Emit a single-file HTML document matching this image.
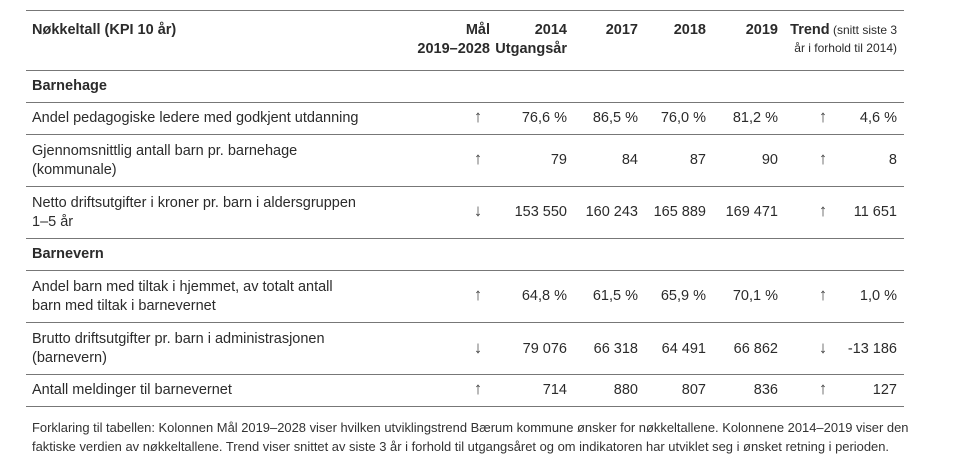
<!DOCTYPE html>
<html><head><meta charset="utf-8"><style>
body{margin:0;width:965px;height:470px;background:#fff;position:relative;overflow:hidden;font-family:"Liberation Sans",sans-serif;color:#2b2b2b}
.l{position:absolute;left:26px;width:878px;height:1px;background:#777}
.t{position:absolute;white-space:nowrap;font-size:14.5px;line-height:19px}
.r{text-align:right}
.b{font-weight:bold}
.c{text-align:center}
.a{font-size:17px;color:#444;top:-2px}
.f{position:absolute;left:32px;font-size:13px;white-space:nowrap;color:#333;transform-origin:0 0;transform:scaleX(0.995)}
</style></head><body>
<div class="l" style="top:10px"></div>
<div class="l" style="top:70px"></div>
<div class="l" style="top:102px"></div>
<div class="l" style="top:134px"></div>
<div class="l" style="top:186px"></div>
<div class="l" style="top:238px"></div>
<div class="l" style="top:270px"></div>
<div class="l" style="top:322px"></div>
<div class="l" style="top:374px"></div>
<div class="l" style="top:406px"></div>

<div class="t b" style="left:32px;top:21px">Nøkkeltall (KPI 10 år)</div>
<div class="t b r" style="right:475px;top:21px">Mål<br>2019–2028</div>
<div class="t b r" style="right:398px;top:21px">2014<br>Utgangsår</div>
<div class="t b r" style="right:327px;top:21px">2017</div>
<div class="t b r" style="right:259px;top:21px">2018</div>
<div class="t b r" style="right:187px;top:21px">2019</div>
<div class="t r" style="right:68px;top:21px;font-size:12px;line-height:18px"><b style="font-size:14.5px">Trend</b> (snitt siste 3<br>år i forhold til 2014)</div>

<div class="t b" style="left:32px;top:77px">Barnehage</div>
<div class="t b" style="left:32px;top:245px">Barnevern</div>

<div class="t" style="left:32px;top:109px">Andel pedagogiske ledere med godkjent utdanning</div>
<div class="t" style="left:32px;top:142px">Gjennomsnittlig antall barn pr. barnehage<br>(kommunale)</div>
<div class="t" style="left:32px;top:194px">Netto driftsutgifter i kroner pr. barn i aldersgruppen<br>1–5 år</div>
<div class="t" style="left:32px;top:278px">Andel barn med tiltak i hjemmet, av totalt antall<br>barn med tiltak i barnevernet</div>
<div class="t" style="left:32px;top:330px">Brutto driftsutgifter pr. barn i administrasjonen<br>(barnevern)</div>
<div class="t" style="left:32px;top:381px">Antall meldinger til barnevernet</div>

<div class="t" style="left:0;top:109px;width:965px">
<span class="t c a" style="left:468px;width:20px">↑</span><span class="t r" style="right:398px">76,6 %</span><span class="t r" style="right:327px">86,5 %</span><span class="t r" style="right:259px">76,0 %</span><span class="t r" style="right:187px">81,2 %</span><span class="t c a" style="left:813px;width:20px">↑</span><span class="t r" style="right:68px">4,6 %</span></div>
<div class="t" style="left:0;top:151px;width:965px">
<span class="t c a" style="left:468px;width:20px">↑</span><span class="t r" style="right:398px">79</span><span class="t r" style="right:327px">84</span><span class="t r" style="right:259px">87</span><span class="t r" style="right:187px">90</span><span class="t c a" style="left:813px;width:20px">↑</span><span class="t r" style="right:68px">8</span></div>
<div class="t" style="left:0;top:203px;width:965px">
<span class="t c a" style="left:468px;width:20px">↓</span><span class="t r" style="right:398px">153 550</span><span class="t r" style="right:327px">160 243</span><span class="t r" style="right:259px">165 889</span><span class="t r" style="right:187px">169 471</span><span class="t c a" style="left:813px;width:20px">↑</span><span class="t r" style="right:68px">11 651</span></div>
<div class="t" style="left:0;top:287px;width:965px">
<span class="t c a" style="left:468px;width:20px">↑</span><span class="t r" style="right:398px">64,8 %</span><span class="t r" style="right:327px">61,5 %</span><span class="t r" style="right:259px">65,9 %</span><span class="t r" style="right:187px">70,1 %</span><span class="t c a" style="left:813px;width:20px">↑</span><span class="t r" style="right:68px">1,0 %</span></div>
<div class="t" style="left:0;top:340px;width:965px">
<span class="t c a" style="left:468px;width:20px">↓</span><span class="t r" style="right:398px">79 076</span><span class="t r" style="right:327px">66 318</span><span class="t r" style="right:259px">64 491</span><span class="t r" style="right:187px">66 862</span><span class="t c a" style="left:813px;width:20px">↓</span><span class="t r" style="right:68px">-13 186</span></div>
<div class="t" style="left:0;top:381px;width:965px">
<span class="t c a" style="left:468px;width:20px">↑</span><span class="t r" style="right:398px">714</span><span class="t r" style="right:327px">880</span><span class="t r" style="right:259px">807</span><span class="t r" style="right:187px">836</span><span class="t c a" style="left:813px;width:20px">↑</span><span class="t r" style="right:68px">127</span></div>

<div class="f" style="top:420px">Forklaring til tabellen: Kolonnen Mål 2019–2028 viser hvilken utviklingstrend Bærum kommune ønsker for nøkkeltallene. Kolonnene 2014–2019 viser den</div>
<div class="f" style="top:439px">faktiske verdien av nøkkeltallene. Trend viser snittet av siste 3 år i forhold til utgangsåret og om indikatoren har utviklet seg i ønsket retning i perioden.</div>
</body></html>
